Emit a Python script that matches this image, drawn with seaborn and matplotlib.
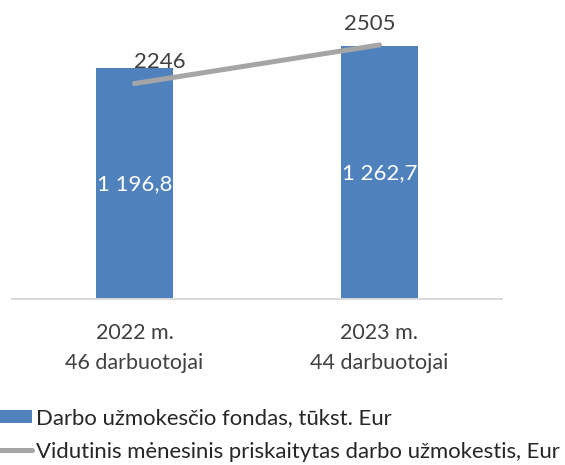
import numpy as np
import pandas as pd
import matplotlib
matplotlib.use("Agg")
import matplotlib.pyplot as plt
import seaborn as sns
from matplotlib.patches import Patch
from matplotlib.lines import Line2D

# ---- data ----
years = ["2022 m.", "2023 m."]
employees = ["46 darbuotojai", "44 darbuotojai"]
fund = [1196.8, 1262.7]            # Darbo užmokesčio fondas, tūkst. Eur
avg_salary = [2246, 2505]          # Vidutinis mėnesinis priskaitytas darbo užmokestis, Eur
fund_labels = ["1 196,8", "1 262,7"]
salary_labels = ["2246", "2505"]
legend_labels = ["Darbo užmokesčio fondas, tūkst. Eur",
                 "Vidutinis mėnesinis priskaitytas darbo užmokestis, Eur"]

sns.set_theme(style="white")
plt.rcParams["font.family"] = ["Lato", "DejaVu Sans"]

BAR = "#4F81BD"
LINE = "#A5A5A5"
TXT = "#404040"

categories = [f"{y}\n{e}" for y, e in zip(years, employees)]
df = pd.DataFrame({"cat": categories, "fund": fund, "salary": avg_salary})
df["pos"] = np.arange(len(df))

fig = plt.figure(figsize=(5.65, 4.65), dpi=100)
ax = fig.add_axes([12 / 565, 166 / 465, 490 / 565, 298 / 465])

sns.barplot(data=df, x="cat", y="fund", ax=ax, color=BAR, width=0.314,
            saturation=1, edgecolor="none")
ax.bar_label(ax.containers[0], labels=fund_labels, label_type="center",
             color="white", fontsize=16)
ax.set_ylim(500, 1400)

ax2 = ax.twinx()
sns.lineplot(data=df, x="pos", y="salary", ax=ax2, color=LINE, linewidth=3.6,
             solid_capstyle="round")
ax2.set_ylim(800, 2800)

label_offsets = [(25, 22), (-10, 21)]
for x, v, t, off in zip(df["pos"], avg_salary, salary_labels, label_offsets):
    ax2.annotate(t, (x, v), xytext=off, textcoords="offset pixels",
                 ha="center", va="center", fontsize=16, color=TXT)

ax.set_xlim(-0.5, 1.5)
ax.set_xticks(np.arange(len(categories)))
ax.set_xticklabels(categories, fontsize=15.5, color=TXT, linespacing=1.6)
ax.tick_params(axis="x", length=0, pad=17.5)
ax.set_xlabel("")
ax.set_ylabel("")
ax2.set_ylabel("")
ax2.set_xlabel("")
ax.set_yticks([])
ax2.set_yticks([])
for a in (ax, ax2):
    for s in ("top", "left", "right", "bottom"):
        a.spines[s].set_visible(False)
ax.spines["bottom"].set_visible(True)
ax.spines["bottom"].set_color("#D9D9D9")
ax.spines["bottom"].set_linewidth(1.4)

handles = [Patch(facecolor=BAR, edgecolor="none"),
           Line2D([], [], color=LINE, linewidth=3.6)]
fig.legend(handles, legend_labels, loc="upper left",
           bbox_to_anchor=(-6 / 565, 1 - 408 / 465), frameon=False,
           borderpad=0, borderaxespad=0, handlelength=1.7, handleheight=0.55,
           handletextpad=0.19, labelspacing=0.62, fontsize=15.9,
           labelcolor="#262626")

fig.savefig("out.png", dpi=100)
